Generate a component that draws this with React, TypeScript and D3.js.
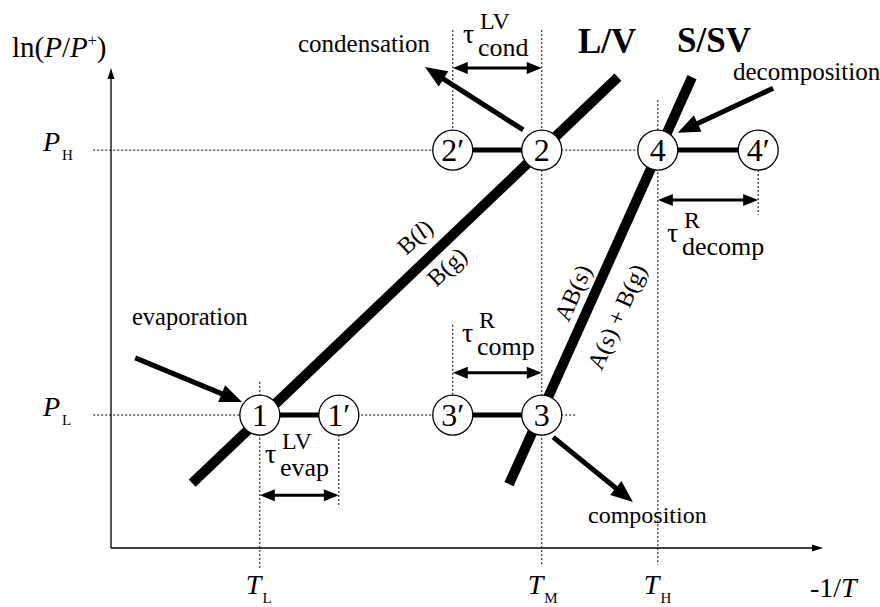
import React from "react";
import * as d3 from "d3";

// schematic: ln(P/P+) vs -1/T, abstract units 0..10 on both axes
const W = 880;
const H = 607;
const FONT = '"Liberation Serif", "DejaVu Serif", "Times New Roman", serif';

const xScale = d3.scaleLinear().domain([0, 10]).range([111, 823]);
const yScale = d3.scaleLinear().domain([0, 10]).range([548, 68]);

const tempLevels = [
  { sub: "L", x: 2.09 },
  { sub: "M", x: 6.05 },
  { sub: "H", x: 7.68 },
];
const pressureLevels = [
  { sub: "H", y: 8.29 },
  { sub: "L", y: 2.77 },
];

const states = [
  { id: "1", x: 2.09, y: 2.77 },
  { id: "1\u2032", x: 3.2, y: 2.77 },
  { id: "2\u2032", x: 4.8, y: 8.29 },
  { id: "2", x: 6.05, y: 8.29 },
  { id: "3\u2032", x: 4.8, y: 2.77 },
  { id: "3", x: 6.05, y: 2.77 },
  { id: "4", x: 7.68, y: 8.29 },
  { id: "4\u2032", x: 9.09, y: 8.29 },
];
const links = [
  ["1", "1\u2032"],
  ["2\u2032", "2"],
  ["3\u2032", "3"],
  ["4", "4\u2032"],
];

const phaseLines = [
  { name: "L/V", x1: 1.14, y1: 1.35, x2: 7.12, y2: 9.81 },
  { name: "S/SV", x1: 5.59, y1: 1.33, x2: 8.16, y2: 9.81 },
];

const processArrows = [
  { name: "evaporation", x1: 0.34, y1: 3.96, x2: 1.84, y2: 3.04 },
  { name: "condensation", x1: 5.79, y1: 8.71, x2: 4.41, y2: 10.02 },
  { name: "decomposition", x1: 9.3, y1: 9.58, x2: 7.96, y2: 8.65 },
  { name: "composition", x1: 6.21, y1: 2.31, x2: 7.33, y2: 0.96 },
];

// relaxation-time intervals (double arrows)
const intervals = [
  { sup: "LV", sub: "cond", x1: 4.8, x2: 6.05, y: 10.0 },
  { sup: "R", sub: "decomp", x1: 7.68, x2: 9.09, y: 7.25 },
  { sup: "R", sub: "comp", x1: 4.8, x2: 6.05, y: 3.65 },
  { sup: "LV", sub: "evap", x1: 2.09, x2: 3.2, y: 1.1 },
];

// dotted guides
const vGuides = [
  { x: 2.09, y1: 3.46, y2: -0.42 },
  { x: 3.2, y1: 2.77, y2: 0.85 },
  { x: 4.8, y1: 10.79, y2: 8.29 },
  { x: 6.05, y1: 10.79, y2: -0.35 },
  { x: 4.8, y1: 4.65, y2: 2.77 },
  { x: 7.68, y1: 9.33, y2: -0.35 },
  { x: 9.09, y1: 8.29, y2: 6.94 },
];
const hGuides = [
  { y: 8.29, x1: -0.25, x2: 7.68 },
  { y: 2.77, x1: -0.25, x2: 6.52 },
];

function head(x1: number, y1: number, x2: number, y2: number, len: number, wid: number) {
  const a = Math.atan2(y2 - y1, x2 - x1);
  const bx = x2 - len * Math.cos(a);
  const by = y2 - len * Math.sin(a);
  const nx = -Math.sin(a) * wid / 2;
  const ny = Math.cos(a) * wid / 2;
  return {
    pts: `${x2},${y2} ${bx + nx},${by + ny} ${bx - nx},${by - ny}`,
    bx: x2 - (len - 3) * Math.cos(a),
    by: y2 - (len - 3) * Math.sin(a),
  };
}

export default function App() {
  const byId = new Map(states.map((s) => [s.id, s]));
  const x0 = xScale(0);
  const y0 = yScale(0);
  const axisHeadX = head(x0, y0, xScale(10), y0, 11, 7);
  const axisHeadY = head(x0, y0, x0, yScale(10), 11, 7);

  return (
    <svg width={W} height={H} style={{ position: "absolute", left: 0, top: 0, background: "#fff" }}>
      <style>{`text, tspan { font-family: ${FONT}; }`}</style>
      {/* guides */}
      <g stroke="#000" strokeWidth={1} strokeDasharray="2,2">
        {vGuides.map((g, i) => (
          <line key={"v" + i} x1={xScale(g.x)} x2={xScale(g.x)} y1={yScale(g.y1)} y2={yScale(g.y2)} />
        ))}
        {hGuides.map((g, i) => (
          <line key={"h" + i} x1={xScale(g.x1)} x2={xScale(g.x2)} y1={yScale(g.y)} y2={yScale(g.y)} />
        ))}
      </g>

      {/* axes */}
      <line x1={x0} y1={y0} x2={axisHeadX.bx} y2={y0} stroke="#000" strokeWidth={1.3} />
      <polygon points={axisHeadX.pts} fill="#000" />
      <line x1={x0} y1={y0} x2={x0} y2={axisHeadY.by} stroke="#000" strokeWidth={1.3} />
      <polygon points={axisHeadY.pts} fill="#000" />

      <text x={12} y={57} fontSize={29}>
        ln(<tspan fontStyle="italic">P</tspan>/<tspan fontStyle="italic">P</tspan>
        <tspan fontSize={16} dy={-11}>+</tspan>
        <tspan dy={11}>)</tspan>
      </text>
      <text x={810} y={597} fontSize={28}>
        -1/<tspan fontStyle="italic">T</tspan>
      </text>

      {pressureLevels.map((p) => (
        <text key={"p" + p.sub} x={43} y={yScale(p.y) + 1} fontSize={28}>
          <tspan fontStyle="italic">P</tspan>
          <tspan fontSize={15} dx={2} dy={9}>{p.sub}</tspan>
        </text>
      ))}
      {tempLevels.map((t) => (
        <text key={"t" + t.sub} x={xScale(t.x) - 14} y={594} fontSize={28}>
          <tspan fontStyle="italic">T</tspan>
          <tspan fontSize={15} dx={1} dy={9}>{t.sub}</tspan>
        </text>
      ))}

      {/* phase boundaries */}
      {phaseLines.map((l) => (
        <line key={l.name} x1={xScale(l.x1)} y1={yScale(l.y1)} x2={xScale(l.x2)} y2={yScale(l.y2)} stroke="#000" strokeWidth={10} />
      ))}
      <text x={578} y={53} fontSize={35} fontWeight="bold">L/V</text>
      <text x={677} y={52} fontSize={35} fontWeight="bold">S/SV</text>

      <text fontSize={24} textAnchor="middle" dominantBaseline="central" transform="translate(415,237) rotate(-43)">
        B(<tspan fontStyle="italic">l</tspan>)
      </text>
      <text fontSize={24} textAnchor="middle" dominantBaseline="central" transform="translate(447,267) rotate(-43)">B(g)</text>
      <text fontSize={24} textAnchor="middle" dominantBaseline="central" transform="translate(573,293) rotate(-66)">AB(s)</text>
      <text fontSize={24} textAnchor="middle" dominantBaseline="central" transform="translate(617,317) rotate(-66)">A(s) + B(g)</text>

      {/* state links */}
      {links.map(([a, b]) => {
        const s = byId.get(a)!;
        const t = byId.get(b)!;
        return <line key={a + b} x1={xScale(s.x)} y1={yScale(s.y)} x2={xScale(t.x)} y2={yScale(t.y)} stroke="#000" strokeWidth={5} />;
      })}

      {/* state circles */}
      {states.map((s) => (
        <circle key={"c" + s.id} cx={xScale(s.x)} cy={yScale(s.y)} r={20} fill="#fff" stroke="#000" strokeWidth={1.3} />
      ))}
      {states.map((s) => (
        <text key={"n" + s.id} x={xScale(s.x)} y={yScale(s.y) + 11} textAnchor="middle" fontSize={32}>{s.id}</text>
      ))}

      {/* process arrows */}
      {processArrows.map((a) => {
        const X1 = xScale(a.x1), Y1 = yScale(a.y1), X2 = xScale(a.x2), Y2 = yScale(a.y2);
        const h = head(X1, Y1, X2, Y2, 22, 18);
        return (
          <g key={a.name}>
            <line x1={X1} y1={Y1} x2={h.bx} y2={h.by} stroke="#000" strokeWidth={5} />
            <polygon points={h.pts} fill="#000" />
          </g>
        );
      })}
      <text fontSize={25} x={298} y={52}>condensation</text>
      <text fontSize={25} x={733} y={80}>decomposition</text>
      <text fontSize={24.5} x={132} y={325}>evaporation</text>
      <text fontSize={24} x={588} y={523}>composition</text>

      {/* interval arrows */}
      {intervals.map((d) => {
        const X1 = xScale(d.x1), X2 = xScale(d.x2), Y = yScale(d.y);
        const hr = head(X1, Y, X2, Y, 15, 12);
        const hl = head(X2, Y, X1, Y, 15, 12);
        return (
          <g key={d.sub}>
            <line x1={hl.bx} y1={Y} x2={hr.bx} y2={Y} stroke="#000" strokeWidth={3} />
            <polygon points={hr.pts} fill="#000" />
            <polygon points={hl.pts} fill="#000" />
          </g>
        );
      })}
      {[
        { i: 0, x: 463, y: 43 },
        { i: 1, x: 667, y: 242 },
        { i: 2, x: 462, y: 342 },
        { i: 3, x: 265, y: 463 },
      ].map(({ i, x, y }) => (
        <text key={"tau" + i} x={x} y={y} fontSize={28}>
          τ
          <tspan x={x + 17} y={y - 14} fontSize={24}>{intervals[i].sup}</tspan>
          <tspan x={x + 15} y={y + 13} fontSize={26}>{intervals[i].sub}</tspan>
        </text>
      ))}
    </svg>
  );
}
